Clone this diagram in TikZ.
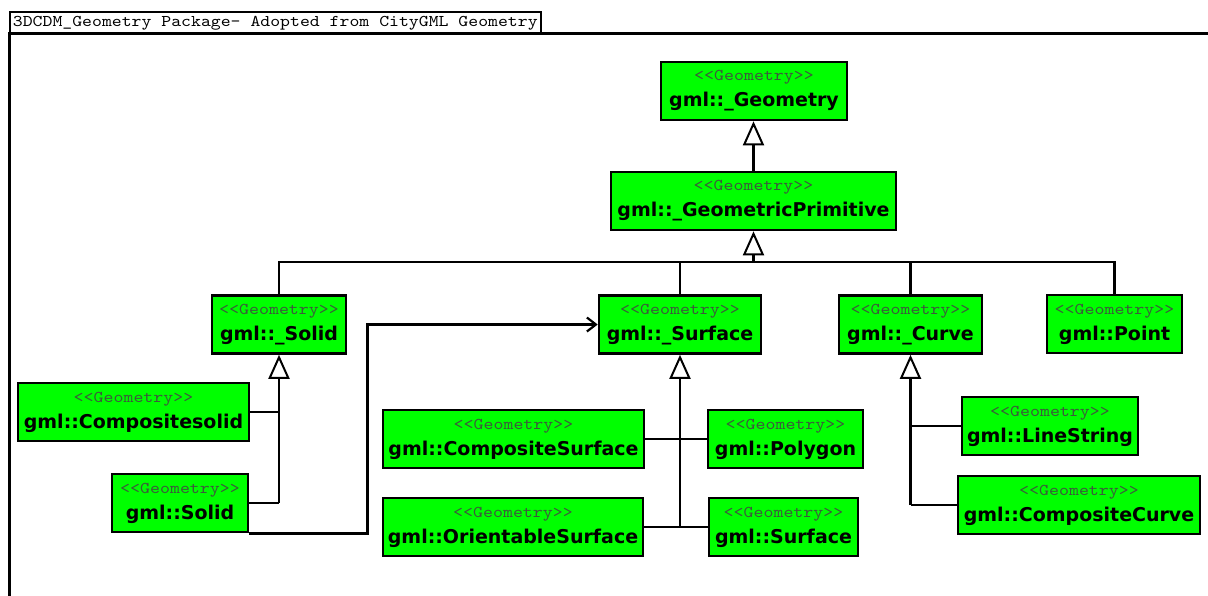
\documentclass[tikz,border=0pt]{standalone}
\usepackage{fontspec}
\usetikzlibrary{arrows.meta}
\newfontfamily\monofam[Extension=.otf, FakeStretch=1.15]{lmmono10-regular}
\newfontfamily\namefam{DejaVu Sans}
\definecolor{umlgreen}{RGB}{0,255,0}
\definecolor{stereocol}{RGB}{60,90,60}
\newcommand{\stereo}{{\monofam\fontsize{16.5}{26}\selectfont\color{stereocol}<<Geometry>>}}
\tikzset{
  cls/.style={draw=black, line width=2.6pt, fill=umlgreen, inner sep=0pt, align=center,
    minimum height=58pt, font=\namefam\bfseries\fontsize{19}{26}\selectfont},
  conn/.style={line width=2.4pt, draw=black},
  gen/.style={conn, -{Triangle[open, length=24pt, width=21pt, fill=white, line width=2pt]}},
  assoc/.style={conn, -{Straight Barb[length=9pt, width=14pt, line width=2.2pt]}},
  frame/.style={line width=3pt, draw=black},
  tab/.style={draw=black, line width=1.8pt, anchor=north west, inner xsep=3pt, inner ysep=0pt,
    minimum height=22pt, font=\monofam\fontsize{16.4}{18}\selectfont}
}
\begin{document}
\begin{tikzpicture}[x=1pt, y=-1pt]
\useasboundingbox[fill=white] (0,0) rectangle (1208,595);

% package frame with its name tab
\node[tab] (pkg) at (9,11) {3DCDM\_Geometry Package- Adopted from CityGML Geometry};
\draw[frame] (9,596) -- (9,33) -- (1210,33);

% classes
\node[cls, minimum width=186pt] (geom) at (754,91) {\stereo\\gml::\_Geometry};
\node[cls, minimum width=285pt] (prim) at (753.5,201) {\stereo\\gml::\_GeometricPrimitive};

\node[cls, minimum width=134pt] (solidA) at (279,324.5) {\stereo\\gml::\_Solid};
\node[cls, minimum width=162pt] (surfA) at (680,324.5) {\stereo\\gml::\_Surface};
\node[cls, minimum width=143pt] (curveA) at (910.5,324.5) {\stereo\\gml::\_Curve};
\node[cls, minimum width=135pt] (point) at (1114.5,324) {\stereo\\gml::Point};

\node[cls, minimum width=231pt] (compsolid) at (133.5,412) {\stereo\\gml::Compositesolid};
\node[cls, minimum width=136pt] (solid) at (180,503) {\stereo\\gml::Solid};

\node[cls, minimum width=261pt] (compsurf) at (513.5,439) {\stereo\\gml::CompositeSurface};
\node[cls, minimum width=155pt] (polygon) at (785.5,439) {\stereo\\gml::Polygon};
\node[cls, minimum width=260pt] (orient) at (513,527) {\stereo\\gml::OrientableSurface};
\node[cls, minimum width=149pt] (surface) at (783.5,527) {\stereo\\gml::Surface};

\node[cls, minimum width=176pt] (linestr) at (1050,426) {\stereo\\gml::LineString};
\node[cls, minimum width=242pt] (compcurve) at (1079,505) {\stereo\\gml::CompositeCurve};

% generalization: primitive -> geometry
\draw[gen] (prim.north) -- (prim.north |- geom.south);

% shared bus below the geometric primitive
\coordinate (bus) at (753.5,262);
\draw[conn] (solidA.north) -- (solidA.north |- bus) -- (point.north |- bus) -- (point.north);
\draw[conn] (surfA.north) -- (surfA.north |- bus);
\draw[conn] (curveA.north) -- (curveA.north |- bus);
\draw[gen] (bus) -- (prim.south);

% solid subtree
\draw[conn] (compsolid.east) -- (compsolid.east -| solidA.south);
\draw[conn] (solid.east) -- (solid.east -| solidA.south);
\draw[gen] (solid.east -| solidA.south) -- (solidA.south);

% surface subtree
\draw[conn] (compsurf.east) -- (polygon.west);
\draw[conn] (orient.east) -- (surface.west);
\draw[gen] (orient.east -| surfA.south) -- (surfA.south);

% curve subtree
\draw[conn] (linestr.west) -- (linestr.west -| curveA.south);
\draw[conn] (compcurve.west) -- (compcurve.west -| curveA.south);
\draw[gen] (compcurve.west -| curveA.south) -- (curveA.south);

% association: solid -> surface
\draw[assoc] (solid.south east) -- ++(118,0) |- (surfA.west);
\end{tikzpicture}
\end{document}
